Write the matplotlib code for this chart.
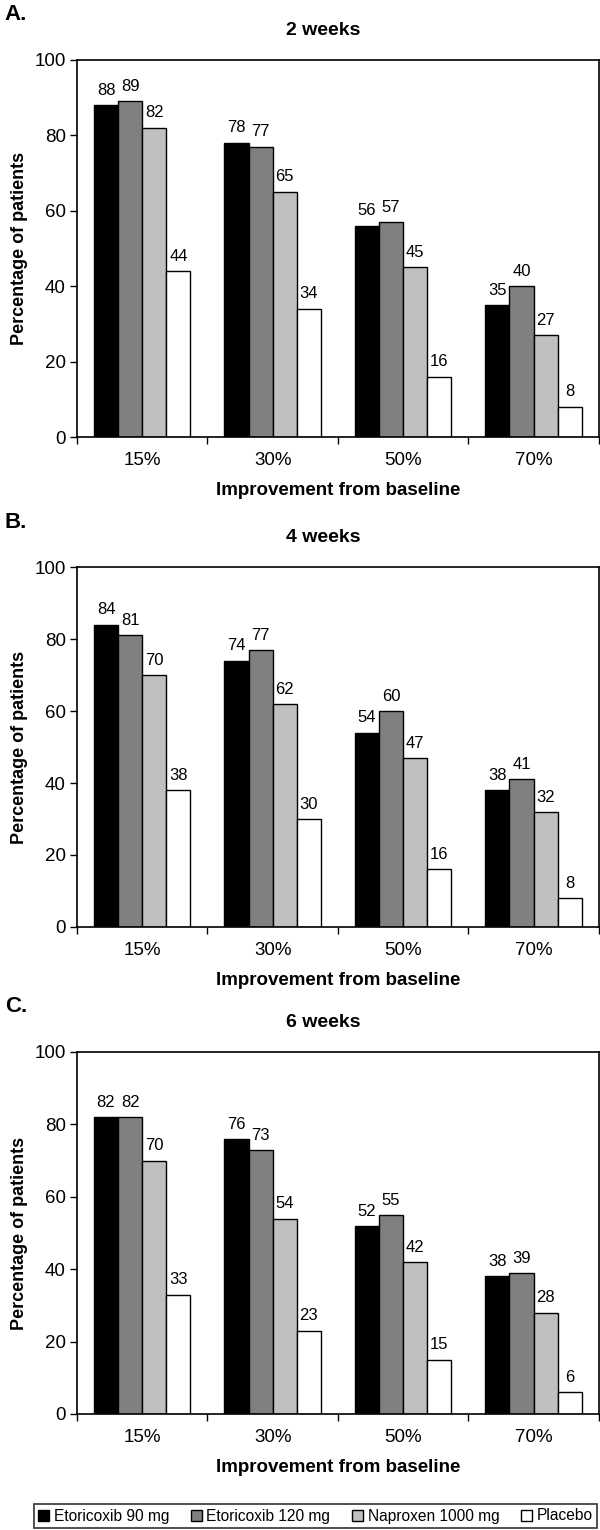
import matplotlib
matplotlib.use("Agg")
import matplotlib.pyplot as plt
import numpy as np
from matplotlib.patches import Patch

plt.rcParams['font.family'] = ['Liberation Sans', 'DejaVu Sans']

categories = ["15%", "30%", "50%", "70%"]
series_names = ["Etoricoxib 90 mg", "Etoricoxib 120 mg", "Naproxen 1000 mg", "Placebo"]
colors = ["#000000", "#808080", "#c0c0c0", "#ffffff"]

weeks2 = [[88, 78, 56, 35], [89, 77, 57, 40], [82, 65, 45, 27], [44, 34, 16, 8]]
weeks4 = [[84, 74, 54, 38], [81, 77, 60, 41], [70, 62, 47, 32], [38, 30, 16, 8]]
weeks6 = [[82, 76, 52, 38], [82, 73, 55, 39], [70, 54, 42, 28], [33, 23, 15, 6]]

panels = [("A.", "2 weeks", weeks2), ("B.", "4 weeks", weeks4), ("C.", "6 weeks", weeks6)]
yticks = [0, 20, 40, 60, 80, 100]

fig = plt.figure(figsize=(6, 15.3), dpi=100)
# (bottom, top) in pixels from top
boxes = [(437, 60), (927, 567), (1414, 1052)]
H = 1530.0
left, right = 77 / 600, 0.998

bw = 0.185
for (letter, title, data), (pb, pt) in zip(panels, boxes):
    ax = fig.add_axes([left, 1 - pb / H, right - left, (pb - pt) / H])
    x = np.arange(len(categories))
    for i, (vals, c) in enumerate(zip(data, colors)):
        pos = x + (i - 1.5) * bw
        bars = ax.bar(pos, vals, width=bw, color=c, edgecolor="black", linewidth=1.0, zorder=2)
        for b, v in zip(bars, vals):
            ax.text(b.get_x() + b.get_width() / 2, v + 2.0, str(v), ha="center", va="bottom", fontsize=12)
    ax.set_xlim(-0.5, 3.5)
    ax.set_ylim(0, 100)
    ax.set_yticks(yticks)
    ax.set_xticks([-0.5, 0.5, 1.5, 2.5, 3.5])
    ax.set_xticklabels([])
    ax.set_xticks(x, minor=True)
    ax.set_xticklabels(categories, minor=True, fontsize=13.5)
    ax.tick_params(axis="x", which="minor", length=0, pad=11)
    ax.tick_params(axis="x", which="major", length=5, width=1, direction="out")
    ax.tick_params(axis="y", length=5, width=1, labelsize=13.5, pad=3)
    for s in ax.spines.values():
        s.set_linewidth(1.2)
    ax.set_ylabel("Percentage of patients", fontsize=13, fontweight="bold", labelpad=5)
    ax.set_xlabel("Improvement from baseline", fontsize=13.5, fontweight="bold", labelpad=9)
    fig.text(323 / 600, 1 - (pt - 29.5) / H, title, ha="center", va="center", fontsize=14, fontweight="bold")
    fig.text(0.008, 1 - (pt - 45) / H, letter, ha="left", va="center", fontsize=16, fontweight="bold")

handles = [Patch(facecolor=c, edgecolor="black", linewidth=1.0) for c in colors]
leg = fig.legend(handles, series_names, loc="center", bbox_to_anchor=(315.5 / 600, 1 - 1516 / H),
                 ncol=4, fontsize=11.2, frameon=True, fancybox=False, edgecolor="black",
                 handlelength=0.7, handleheight=0.7, handletextpad=0.3, columnspacing=1.4,
                 borderpad=0.3, borderaxespad=0)
leg.get_frame().set_linewidth(1.2)

fig.savefig("out.png", dpi=100)
